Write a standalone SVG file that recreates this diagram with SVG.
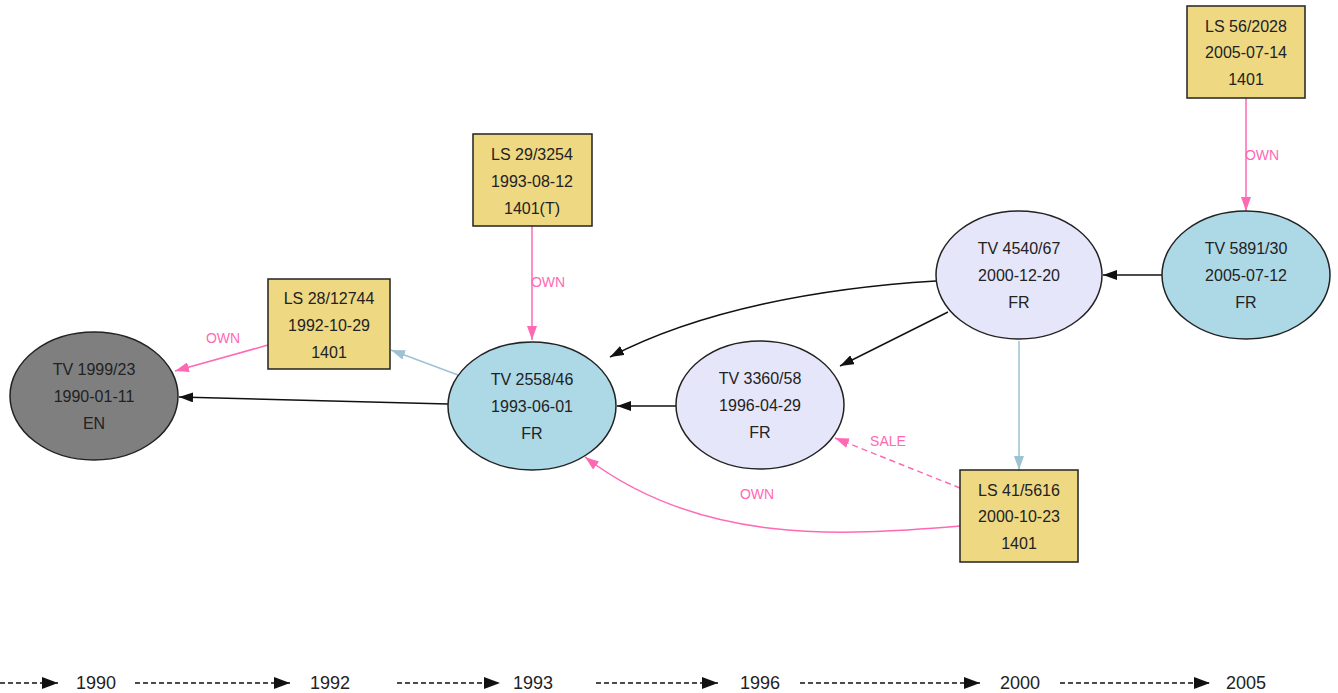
<svg xmlns="http://www.w3.org/2000/svg" width="1338" height="693" viewBox="0 0 1338 693">
<style>
text{font-family:"Liberation Sans",Arial,sans-serif;fill:#222;text-anchor:middle;dominant-baseline:central}
.n{font-size:16px}
.lbl{font-size:14px;fill:#ff69b4}
.yr{font-size:18px}
.ell{stroke:#222;stroke-width:1.5}
.box{fill:#eed882;stroke:#222;stroke-width:1.5}
.e{fill:none;stroke-width:1.5}
.blk{stroke:#111;marker-end:url(#ab)}
.pk{stroke:#ff69b4;marker-end:url(#ap)}
.lb{stroke:#9dc3d1;marker-end:url(#al)}
.tl{stroke:#111;stroke-width:1.3;stroke-dasharray:5,3;marker-end:url(#at)}
</style>
<defs>
<marker id="ab" markerUnits="userSpaceOnUse" markerWidth="14" markerHeight="10" refX="14" refY="5" orient="auto"><path d="M0,0L14,5L0,10z" fill="#111"/></marker>
<marker id="ap" markerUnits="userSpaceOnUse" markerWidth="14" markerHeight="10" refX="14" refY="5" orient="auto"><path d="M0,0L14,5L0,10z" fill="#ff69b4"/></marker>
<marker id="al" markerUnits="userSpaceOnUse" markerWidth="14" markerHeight="10" refX="14" refY="5" orient="auto"><path d="M0,0L14,5L0,10z" fill="#9dc3d1"/></marker>
<marker id="at" markerUnits="userSpaceOnUse" markerWidth="16" markerHeight="12" refX="16" refY="6" orient="auto"><path d="M0,0L16,6L0,12z" fill="#111"/></marker>
</defs>
<rect width="1338" height="693" fill="#fff"/>
<g id="connectors">
<path class="e blk" d="M448,404L179,397"/>
<path class="e lb" d="M458,375L391,350"/>
<path class="e pk" d="M268,345L175,371"/>
<path class="e pk" d="M532,226L532,340"/>
<path class="e blk" d="M676,406L617,406"/>
<path class="e blk" d="M936,281C820,288 700,310 610,357"/>
<path class="e blk" d="M948,312L840,366"/>
<path class="e blk" d="M1162,275L1103,275"/>
<path class="e lb" d="M1019,341L1019,470"/>
<path class="e pk" d="M960,488L835,438" stroke-dasharray="6,4"/>
<path class="e pk" d="M960,526C840,536 700,545 585,457"/>
<path class="e pk" d="M1246,98L1246,211"/>
<text class="lbl" x="223" y="338">OWN</text>
<text class="lbl" x="548" y="282">OWN</text>
<text class="lbl" x="1262" y="155">OWN</text>
<text class="lbl" x="888" y="441">SALE</text>
<text class="lbl" x="757" y="494">OWN</text>
</g>
<g id="n1999"><ellipse class="ell" cx="94" cy="396" rx="84" ry="64" fill="#7f7f7f"/><text class="n" x="94" y="369">TV 1999/23</text><text class="n" x="94" y="396">1990-01-11</text><text class="n" x="94" y="423">EN</text></g>
<g id="ls28"><rect class="box" x="268" y="279" width="122" height="90"/><text class="n" x="329" y="298">LS 28/12744</text><text class="n" x="329" y="325">1992-10-29</text><text class="n" x="329" y="352">1401</text></g>
<g id="n2558"><ellipse class="ell" cx="532" cy="406" rx="84" ry="64" fill="#add8e6"/><text class="n" x="532" y="379">TV 2558/46</text><text class="n" x="532" y="406">1993-06-01</text><text class="n" x="532" y="433">FR</text></g>
<g id="ls29"><rect class="box" x="473" y="134" width="119" height="92"/><text class="n" x="532" y="154">LS 29/3254</text><text class="n" x="532" y="181">1993-08-12</text><text class="n" x="532" y="208">1401(T)</text></g>
<g id="n3360"><ellipse class="ell" cx="760" cy="405" rx="84" ry="64" fill="#e6e6fa"/><text class="n" x="760" y="378">TV 3360/58</text><text class="n" x="760" y="405">1996-04-29</text><text class="n" x="760" y="432">FR</text></g>
<g id="n4540"><ellipse class="ell" cx="1019" cy="275" rx="83" ry="64" fill="#e6e6fa"/><text class="n" x="1019" y="248">TV 4540/67</text><text class="n" x="1019" y="275">2000-12-20</text><text class="n" x="1019" y="302">FR</text></g>
<g id="n5891"><ellipse class="ell" cx="1246" cy="275" rx="84" ry="64" fill="#add8e6"/><text class="n" x="1246" y="248">TV 5891/30</text><text class="n" x="1246" y="275">2005-07-12</text><text class="n" x="1246" y="302">FR</text></g>
<g id="ls56"><rect class="box" x="1187" y="6" width="118" height="92"/><text class="n" x="1246" y="26">LS 56/2028</text><text class="n" x="1246" y="52">2005-07-14</text><text class="n" x="1246" y="79">1401</text></g>
<g id="ls41"><rect class="box" x="960" y="470" width="118" height="92"/><text class="n" x="1019" y="490">LS 41/5616</text><text class="n" x="1019" y="516">2000-10-23</text><text class="n" x="1019" y="543">1401</text></g>
<g id="timeline">
<path class="tl" d="M0,683L58,683"/>
<path class="tl" d="M135,683L290,683"/>
<path class="tl" d="M397,683L500,683"/>
<path class="tl" d="M596,683L718,683"/>
<path class="tl" d="M800,683L980,683"/>
<path class="tl" d="M1060,683L1210,683"/>
<text class="yr" x="96" y="683">1990</text>
<text class="yr" x="330" y="683">1992</text>
<text class="yr" x="533" y="683">1993</text>
<text class="yr" x="760" y="683">1996</text>
<text class="yr" x="1020" y="683">2000</text>
<text class="yr" x="1246" y="683">2005</text>
</g>
</svg>
